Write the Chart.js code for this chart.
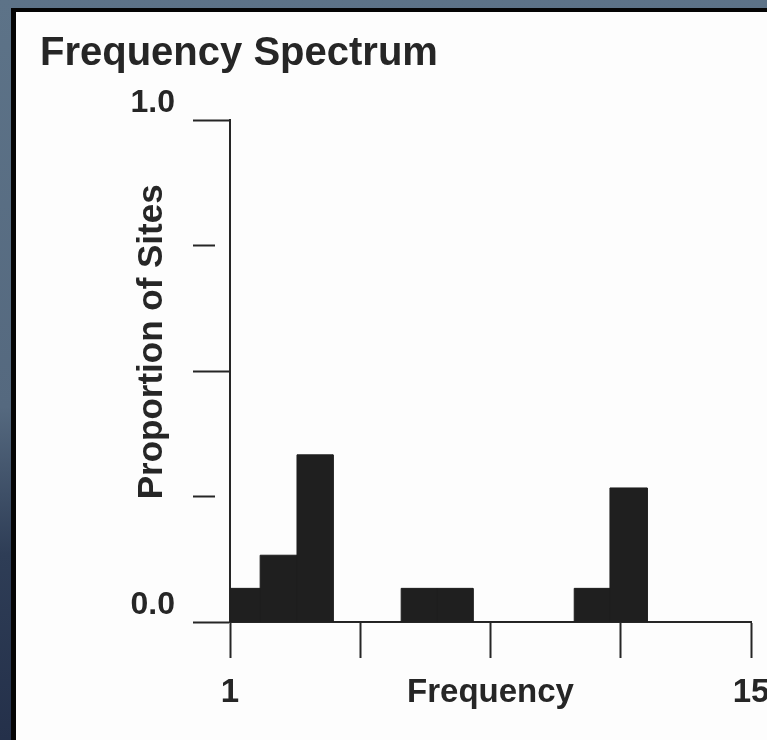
<!DOCTYPE html>
<html lang="en">

<head>
    <meta charset="UTF-8">
    <title>Frequency Spectrum</title>
    <script src="https://cdn.jsdelivr.net/npm/chart.js"></script>
    <style>
        html, body {
            margin: 0;
            padding: 0;
            width: 767px;
            height: 740px;
            overflow: hidden;
            background: linear-gradient(to bottom, #5d7388 0%, #55697f 55%, #2e3d56 75%, #24304a 100%);
        }

        .panel {
            position: absolute;
            left: 11px;
            top: 8px;
            width: 760px;
            height: 740px;
            background: #fdfdfd;
            border-left: 5px solid #050505;
            border-top: 4px solid #050505;
        }

        #chart {
            position: absolute;
            left: 0;
            top: 0;
        }
    </style>
</head>

<body>
    <div class="panel"></div>
    <canvas id="chart" width="767" height="740"></canvas>

    <script>
        // bins (x in frequency units)
        const binStart = [1.0, 1.81, 2.80, 5.60, 6.56, 10.25, 11.21];
        const binEnd = [1.81, 2.80, 3.77, 6.56, 7.53, 11.21, 12.21];
        const proportion = [0.067, 0.133, 0.333, 0.067, 0.067, 0.067, 0.267];

        const xTicks = [1, 4.5, 8, 11.5, 15];
        const xTickLabels = ['1', '', 'Frequency', '', '15'];
        const yTicks = [0, 0.25, 0.5, 0.75, 1.0];
        const yTickLabels = ['0.0', '', '', '', '1.0'];
        const yMinorTicks = [0.25, 0.75];

        // outline of the histogram as a filled line
        const outline = [];
        binStart.forEach((s, i) => {
            outline.push({ x: s, y: 0 });
            outline.push({ x: s, y: proportion[i] });
            outline.push({ x: binEnd[i], y: proportion[i] });
            outline.push({ x: binEnd[i], y: 0 });
        });

        const ink = '#262626';
        const font = "'Liberation Sans', Arial, sans-serif";

        new Chart(document.getElementById('chart'), {
            type: 'line',
            data: {
                datasets: [{
                    data: outline,
                    borderColor: '#1f1f1f',
                    borderWidth: 1,
                    backgroundColor: '#1f1f1f',
                    fill: 'origin',
                    pointRadius: 0,
                    tension: 0
                }]
            },
            options: {
                responsive: false,
                animation: false,
                layout: {
                    padding: { top: 22, left: 40, right: 16, bottom: 0 }
                },
                plugins: {
                    legend: { display: false },
                    tooltip: { enabled: false },
                    title: {
                        display: true,
                        text: 'Frequency Spectrum',
                        align: 'start',
                        color: ink,
                        font: { family: font, size: 40, weight: 'bold' },
                        padding: { top: 8, bottom: 42 }
                    }
                },
                scales: {
                    x: {
                        type: 'linear',
                        min: 1,
                        max: 15,
                        afterBuildTicks: s => { s.ticks = xTicks.map(v => ({ value: v })); },
                        afterFit: s => {
                            s.height = 118;
                            s.paddingLeft = 0;
                            s.paddingRight = 0;
                        },
                        border: { color: ink, width: 2 },
                        grid: {
                            drawOnChartArea: false,
                            tickLength: 36,
                            tickWidth: 2,
                            tickColor: ink
                        },
                        ticks: {
                            autoSkip: false,
                            maxRotation: 0,
                            padding: 15,
                            color: ink,
                            font: { family: font, size: 33, weight: 'bold' },
                            callback: (v, i) => xTickLabels[i]
                        }
                    },
                    y: {
                        min: 0,
                        max: 1,
                        afterBuildTicks: s => { s.ticks = yTicks.map(v => ({ value: v })); },
                        afterFit: s => { s.width = 190; },
                        border: { color: ink, width: 2 },
                        grid: {
                            drawOnChartArea: false,
                            tickLength: 37,
                            tickWidth: 2,
                            tickColor: ink,
                            tickBorderDash: ctx => (ctx.tick && yMinorTicks.includes(ctx.tick.value)) ? [22, 100] : []
                        },
                        ticks: {
                            autoSkip: false,
                            padding: 18,
                            labelOffset: -17,
                            color: ink,
                            font: { family: font, size: 32, weight: 'bold' },
                            callback: (v, i) => yTickLabels[i]
                        },
                        title: {
                            display: true,
                            text: '      Proportion of Sites',
                            color: ink,
                            font: { family: font, size: 35, weight: 'bold' },
                            padding: { top: 91, bottom: 0 }
                        }
                    }
                }
            }
        });
    </script>
</body>

</html>
